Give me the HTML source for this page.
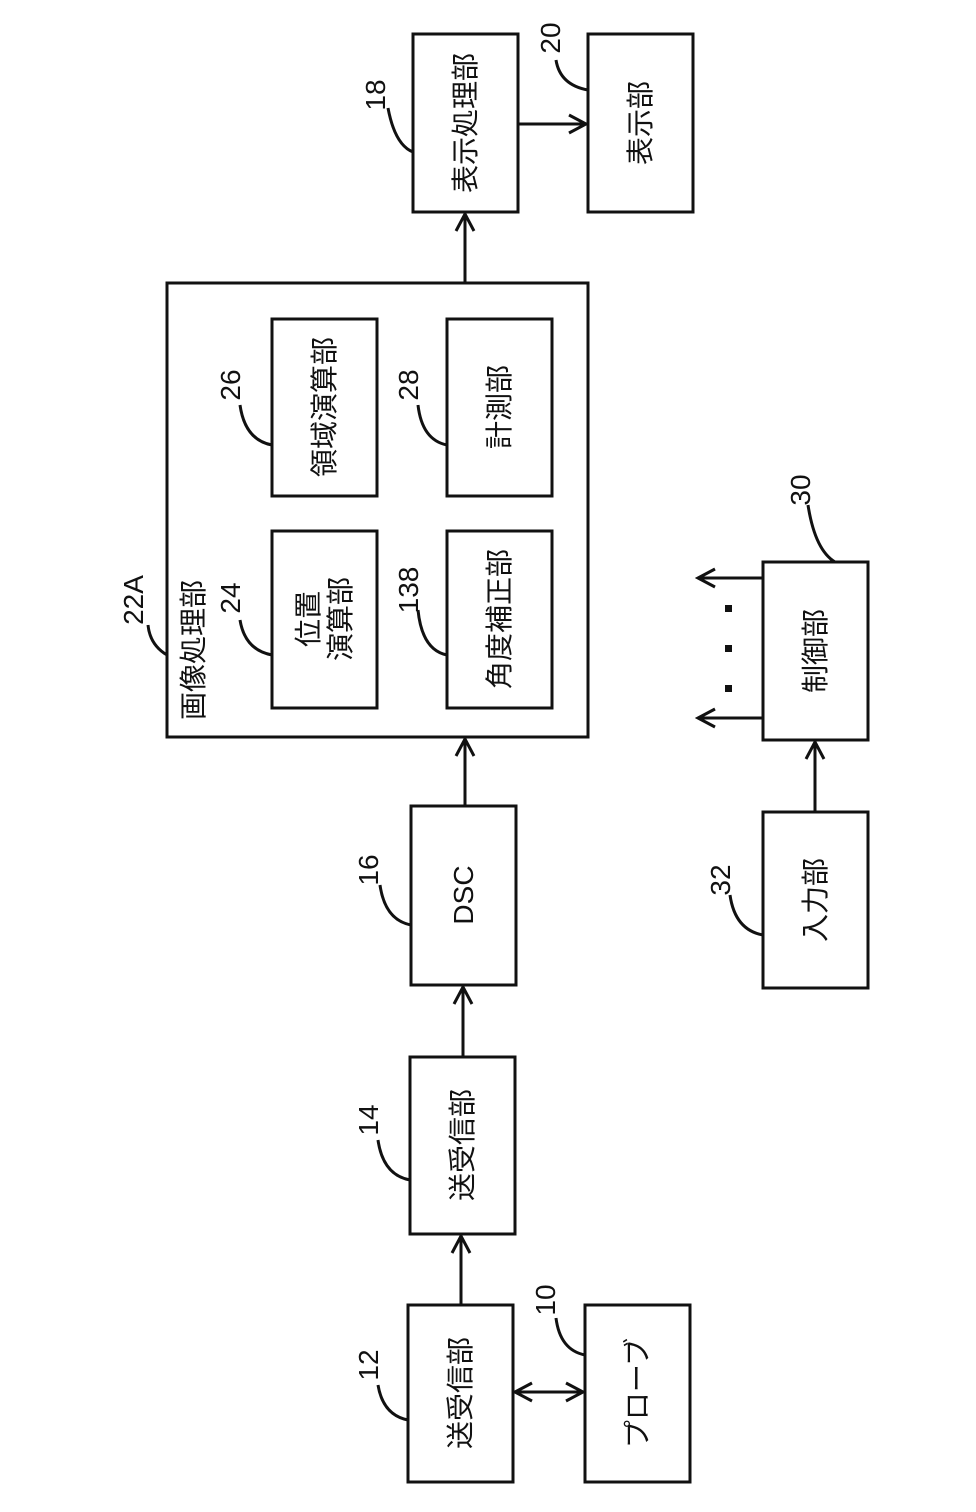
<!DOCTYPE html>
<html><head><meta charset="utf-8"><style>
html,body{margin:0;padding:0;background:#fff;}
svg{display:block;}
text{font-family:"Liberation Sans","Noto Sans CJK JP",sans-serif;fill:#111;}
</style></head><body>
<svg width="976" height="1512" viewBox="0 0 976 1512" xmlns="http://www.w3.org/2000/svg">
<defs>
<marker id="ah" markerWidth="10" markerHeight="10" refX="9" refY="5" orient="auto" markerUnits="userSpaceOnUse">
<path d="M0,0 L10,5 L0,10" fill="none" stroke="#111" stroke-width="3"/>
</marker>
<marker id="ah2" markerWidth="22" markerHeight="22" refX="19" refY="11" orient="auto-start-reverse" markerUnits="userSpaceOnUse">
<path d="M2,2 L19,11 L2,20" fill="none" stroke="#111" stroke-width="3"/>
</marker>
</defs>
<g fill="none" stroke="#111" stroke-width="3">
<rect x="413" y="34" width="105" height="178"/>
<rect x="588" y="34" width="105" height="178"/>
<rect x="167" y="283" width="421" height="454"/>
<rect x="272" y="319" width="105" height="177"/>
<rect x="447" y="319" width="105" height="177"/>
<rect x="272" y="531" width="105" height="177"/>
<rect x="447" y="531" width="105" height="177"/>
<rect x="411" y="806" width="105" height="179"/>
<rect x="410" y="1057" width="105" height="177"/>
<rect x="408" y="1305" width="105" height="177"/>
<rect x="585" y="1305" width="105" height="177"/>
<rect x="763" y="562" width="105" height="178"/>
<rect x="763" y="812" width="105" height="176"/>
<!-- arrows -->
<line x1="518" y1="124" x2="586" y2="124" marker-end="url(#ah2)"/>
<line x1="465" y1="283" x2="465" y2="214" marker-end="url(#ah2)"/>
<line x1="465" y1="806" x2="465" y2="739" marker-end="url(#ah2)"/>
<line x1="463" y1="1057" x2="463" y2="987" marker-end="url(#ah2)"/>
<line x1="461" y1="1305" x2="461" y2="1236" marker-end="url(#ah2)"/>
<line x1="515" y1="1392" x2="583" y2="1392" marker-start="url(#ah2)" marker-end="url(#ah2)"/>
<line x1="815" y1="812" x2="815" y2="742" marker-end="url(#ah2)"/>
<line x1="763" y1="578" x2="698" y2="578" marker-end="url(#ah2)"/>
<line x1="763" y1="718" x2="698" y2="718" marker-end="url(#ah2)"/>
<!-- leaders -->
<path d="M388,108 Q395,145 413,152"/>
<path d="M556,60 Q560,85 588,90"/>
<path d="M148,625 Q150,645 167,655"/>
<path d="M240,620 Q245,650 272,655"/>
<path d="M240,405 Q245,440 272,445"/>
<path d="M418,405 Q422,440 447,445"/>
<path d="M418,610 Q422,650 447,655"/>
<path d="M380,885 Q385,920 411,925"/>
<path d="M378,1140 Q383,1175 410,1180"/>
<path d="M378,1385 Q383,1415 408,1420"/>
<path d="M556,1318 Q560,1350 585,1355"/>
<path d="M808,505 Q815,550 835,562"/>
<path d="M730,895 Q735,930 763,935"/>
</g>
<g fill="#111">
<rect x="725" y="605" width="7" height="7"/>
<rect x="725" y="645" width="7" height="7"/>
<rect x="725" y="685" width="7" height="7"/>
</g>
<g font-size="28" text-anchor="middle">
<text transform="translate(465,123) rotate(-90)" dy="10">表示処理部</text>
<text transform="translate(640,123) rotate(-90)" dy="10">表示部</text>
<text transform="translate(324,407) rotate(-90)" dy="10">領域演算部</text>
<text transform="translate(499,407) rotate(-90)" dy="10">計測部</text>
<text transform="translate(324,619) rotate(-90)" dy="-6">位置</text>
<text transform="translate(324,619) rotate(-90)" dy="26">演算部</text>
<text transform="translate(499,619) rotate(-90)" dy="10">角度補正部</text>
<text transform="translate(463,895) rotate(-90)" dy="10">DSC</text>
<text transform="translate(462,1145) rotate(-90)" dy="10">送受信部</text>
<text transform="translate(460,1393) rotate(-90)" dy="10">送受信部</text>
<text transform="translate(637,1393) rotate(-90)" dy="10">プローブ</text>
<text transform="translate(815,651) rotate(-90)" dy="10">制御部</text>
<text transform="translate(815,900) rotate(-90)" dy="10">入力部</text>
<text transform="translate(193,650) rotate(-90)" dy="10">画像処理部</text>
</g>
<g font-size="28" text-anchor="middle">
<text transform="translate(375,95) rotate(-90)" dy="10">18</text>
<text transform="translate(550,38) rotate(-90)" dy="10">20</text>
<text transform="translate(133,600) rotate(-90)" dy="10">22A</text>
<text transform="translate(230,598) rotate(-90)" dy="10">24</text>
<text transform="translate(230,385) rotate(-90)" dy="10">26</text>
<text transform="translate(408,385) rotate(-90)" dy="10">28</text>
<text transform="translate(408,590) rotate(-90)" dy="10">138</text>
<text transform="translate(368,870) rotate(-90)" dy="10">16</text>
<text transform="translate(368,1120) rotate(-90)" dy="10">14</text>
<text transform="translate(368,1365) rotate(-90)" dy="10">12</text>
<text transform="translate(545,1300) rotate(-90)" dy="10">10</text>
<text transform="translate(800,490) rotate(-90)" dy="10">30</text>
<text transform="translate(720,880) rotate(-90)" dy="10">32</text>
</g>
</svg>
</body></html>
